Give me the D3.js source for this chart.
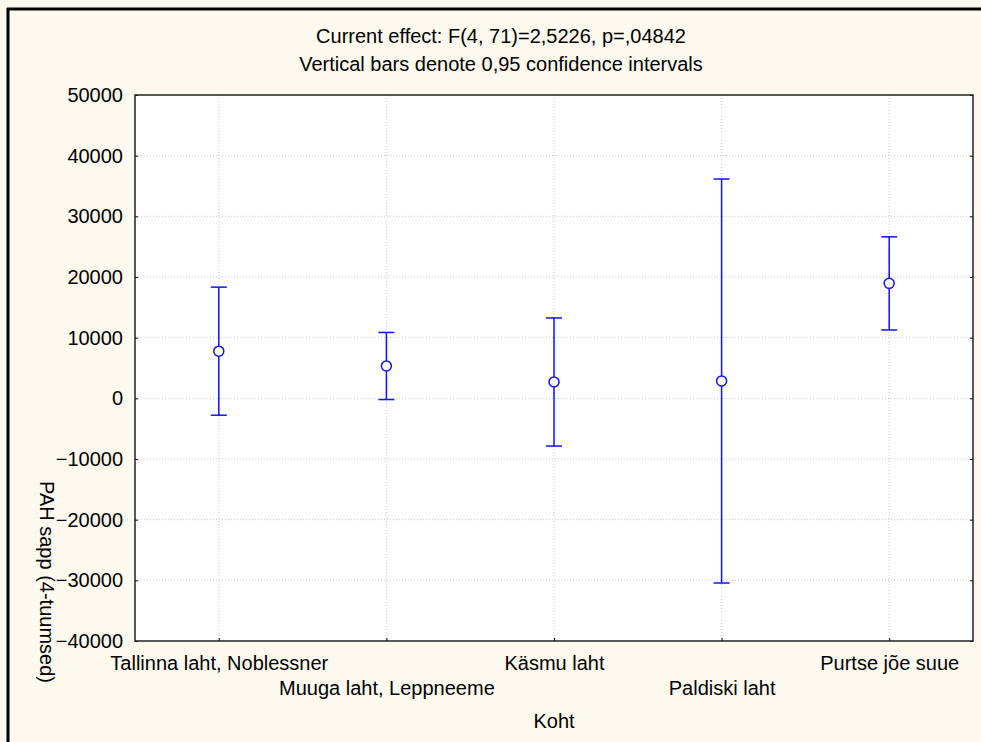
<!DOCTYPE html>
<html>
<head>
<meta charset="utf-8">
<script src="https://cdn.jsdelivr.net/npm/d3@7"></script>
<style>
  body { margin: 0; background: #fdf9ee; overflow: hidden; }
  svg { display: block; font-family: Arial, "Liberation Sans", sans-serif; }
</style>
</head>
<body>
<svg id="chart"></svg>
<script>
// Sites, means and 95% confidence limits
const sites = ['Tallinna laht, Noblessner', 'Muuga laht, Leppneeme', 'Käsmu laht', 'Paldiski laht', 'Purtse jõe suue'];
const means = [7780, 5320, 2700, 2860, 18950];
const lower = [-2780, -200, -7860, -30440, 11270];
const upper = [18330, 10860, 13250, 36150, 26620];
const yTicks = [-40000, -30000, -20000, -10000, 0, 10000, 20000, 30000, 40000, 50000];

const W = 981, H = 742;
const margin = { top: 95, right: 8, bottom: 101, left: 135 };
const width = W - margin.left - margin.right;
const height = H - margin.top - margin.bottom;
const fs = '20px';

const svg = d3.select('#chart').attr('width', W).attr('height', H);

// Page background and outer frame
svg.append('rect').attr('width', W).attr('height', H).attr('fill', '#fdf9ee');
svg.append('line').attr('x1', 7).attr('x2', W).attr('y1', 9).attr('y2', 9)
  .attr('stroke', '#000').attr('stroke-width', 3);
svg.append('line').attr('x1', 8).attr('x2', 8).attr('y1', 8).attr('y2', H)
  .attr('stroke', '#000').attr('stroke-width', 3);

// Title lines
svg.append('text').attr('x', 501).attr('y', 43).attr('text-anchor', 'middle')
  .style('font-size', fs).text('Current effect: F(4, 71)=2,5226, p=,04842');
svg.append('text').attr('x', 501).attr('y', 71).attr('text-anchor', 'middle')
  .style('font-size', fs).text('Vertical bars denote 0,95 confidence intervals');

const g = svg.append('g').attr('transform', `translate(${margin.left},${margin.top})`);

const x = d3.scalePoint().domain(sites).range([0, width]).padding(0.5);
const y = d3.scaleLinear().domain([-40000, 50000]).range([height, 0]);

g.append('rect').attr('width', width).attr('height', height).attr('fill', '#fff');

// Dotted grid
g.selectAll('.hgrid').data(yTicks.slice(1, -1)).join('line')
  .attr('class', 'hgrid')
  .attr('x1', 0).attr('x2', width)
  .attr('y1', d => y(d)).attr('y2', d => y(d))
  .attr('stroke', '#c8c8c8').attr('stroke-dasharray', '1,2');
g.selectAll('.vgrid').data(sites).join('line')
  .attr('class', 'vgrid')
  .attr('x1', d => x(d)).attr('x2', d => x(d))
  .attr('y1', 0).attr('y2', height)
  .attr('stroke', '#c8c8c8').attr('stroke-dasharray', '1,2');

// Axes with inward ticks
const yAxis = g.append('g')
  .call(d3.axisLeft(y).tickValues(yTicks).tickSize(-3).tickPadding(12).tickFormat(d3.format('d')));
yAxis.select('.domain').remove();
yAxis.selectAll('text').style('font-size', fs).attr('fill', '#000');

const yRight = g.append('g').attr('transform', `translate(${width},0)`)
  .call(d3.axisRight(y).tickValues(yTicks).tickSize(-3).tickFormat(''));
yRight.select('.domain').remove();

// Category labels alternate between two rows
const xAxis = g.append('g').attr('transform', `translate(0,${height})`)
  .call(d3.axisBottom(x).tickSize(-3));
xAxis.select('.domain').remove();
xAxis.selectAll('text')
  .style('font-size', fs).attr('fill', '#000')
  .attr('dy', 0)
  .attr('y', (d, i) => i % 2 ? 54 : 29);

// Plot frame
g.append('rect').attr('width', width).attr('height', height)
  .attr('fill', 'none').attr('stroke', '#222').attr('stroke-width', 1.5);

// Confidence interval bars and means
const blue = '#1010ff';
const rows = sites.map((s, i) => ({ site: s, mean: means[i], lo: lower[i], hi: upper[i] }));
const bars = g.selectAll('.ci').data(rows).join('g').attr('class', 'ci');
bars.append('line')
  .attr('x1', d => x(d.site)).attr('x2', d => x(d.site))
  .attr('y1', d => y(d.hi)).attr('y2', d => y(d.lo))
  .attr('stroke', blue).attr('stroke-width', 1.5);
['hi', 'lo'].forEach(k => {
  bars.append('line')
    .attr('x1', d => x(d.site) - 8).attr('x2', d => x(d.site) + 8)
    .attr('y1', d => y(d[k])).attr('y2', d => y(d[k]))
    .attr('stroke', blue).attr('stroke-width', 1.5);
});
bars.append('circle')
  .attr('cx', d => x(d.site)).attr('cy', d => y(d.mean)).attr('r', 5)
  .attr('fill', '#fff').attr('stroke', blue).attr('stroke-width', 1.5);

// Axis titles
svg.append('text').attr('x', margin.left + width / 2).attr('y', 728)
  .attr('text-anchor', 'middle').style('font-size', fs).text('Koht');
svg.append('text')
  .attr('transform', 'translate(40,582) rotate(90)')
  .attr('text-anchor', 'middle').style('font-size', fs)
  .text('PAH sapp (4-tuumsed)');
</script>
</body>
</html>
